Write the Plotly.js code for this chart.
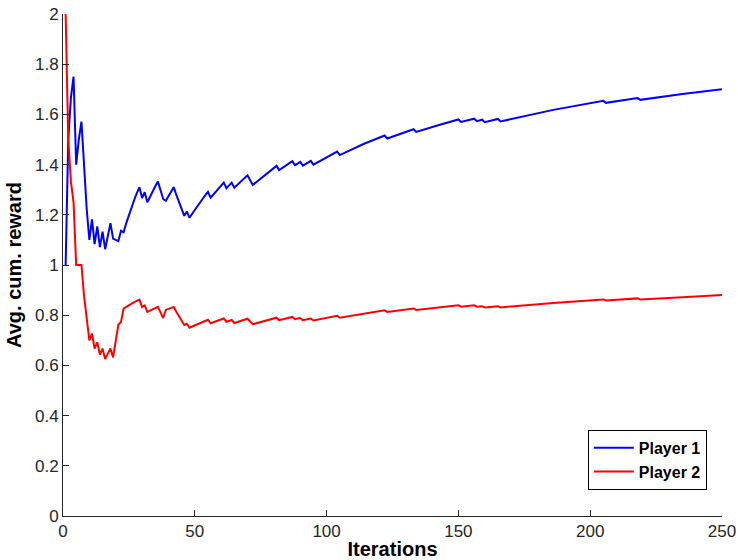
<!DOCTYPE html>
<html>
<head>
<meta charset="utf-8">
<script src="https://cdn.plot.ly/plotly-3.0.1.min.js"></script>
<style>html,body{margin:0;padding:0;background:#fff;}#chart{width:738px;height:560px;}</style>
</head>
<body>
<div id="chart"></div>
<script>
// Player 1 (blue) vertices: iteration and average cumulative reward
const iterP1 = [1,2,3,4,5,6,7,8,9,10,11,12,13,14,15,16,17,18,19,20,21,22,23,24,25,26,27,28,29,30,31,32,33,34,35,36,37,38,39,40,41,42,43,44,45,46,47,48,49,50,51,52,53,54,55,56,
  61,62,63,64,65,70,71,72,81,82,87,88,89,90,91,94,95,104,105,114,122,123,133,134,142,150,151,156,157,159,160,165,166,186,205,206,218,219,235,250];
const rewardP1 = [1.0,1.5,1.667,1.75,1.4,1.5,1.571,1.375,1.222,1.1,1.182,1.083,1.154,1.071,1.133,1.063,1.118,1.167,1.105,1.1,1.095,1.136,1.13,1.167,1.2,1.231,1.259,1.286,1.31,1.267,1.29,1.25,1.273,1.294,1.314,1.333,1.297,1.263,1.256,1.275,1.293,1.31,1.279,1.25,1.222,1.196,1.213,1.188,1.204,1.22,1.235,1.25,1.264,1.278,1.291,1.268,
  1.328,1.306,1.317,1.328,1.308,1.357,1.338,1.319,1.395,1.378,1.414,1.398,1.404,1.411,1.396,1.415,1.4,1.452,1.438,1.482,1.516,1.504,1.541,1.53,1.556,1.58,1.57,1.583,1.573,1.579,1.569,1.582,1.572,1.618,1.654,1.646,1.665,1.658,1.681,1.70];

// Player 2 (red) vertices
const iterP2 = [1,2,3,4,5,6,7,8,9,10,11,12,13,14,15,16,17,18,19,20,21,22,23,24,25,26,27,28,29,30,31,32,33,34,35,36,37,38,39,40,41,42,43,44,45,46,47,48,49,50,51,52,53,54,55,56,
  61,62,63,64,65,70,71,72,81,82,87,88,89,90,91,94,95,104,105,114,122,123,133,134,142,150,151,156,157,159,160,165,166,186,205,206,218,219,235,250];
const rewardP2 = [2.0,1.5,1.333,1.25,1.0,1.0,1.0,0.875,0.778,0.7,0.727,0.667,0.692,0.643,0.667,0.625,0.647,0.667,0.632,0.7,0.762,0.773,0.826,0.833,0.84,0.846,0.852,0.857,0.862,0.833,0.839,0.813,0.818,0.824,0.829,0.833,0.811,0.789,0.821,0.825,0.829,0.833,0.814,0.795,0.778,0.761,0.766,0.75,0.755,0.76,0.765,0.769,0.774,0.778,0.782,0.768,
  0.787,0.774,0.778,0.781,0.769,0.786,0.775,0.764,0.79,0.78,0.793,0.784,0.787,0.789,0.78,0.787,0.779,0.798,0.79,0.807,0.82,0.813,0.827,0.821,0.831,0.84,0.834,0.84,0.834,0.836,0.831,0.836,0.831,0.849,0.863,0.859,0.867,0.863,0.872,0.88];

const seriesNames = ['Player 1','Player 2'];
const xTicks = [0,50,100,150,200,250];
const yTicks = [0,0.2,0.4,0.6,0.8,1,1.2,1.4,1.6,1.8,2];
const yTickText = ['0','0.2','0.4','0.6','0.8','1','1.2','1.4','1.6','1.8','2'];

const FONT = '"Liberation Sans", Arial, Helvetica, sans-serif';
const AX = '#262626';

const traces = [
  {x: iterP1, y: rewardP1, name: seriesNames[0], mode: 'lines', line: {color: '#0000ff', width: 2}},
  {x: iterP2, y: rewardP2, name: seriesNames[1], mode: 'lines', line: {color: '#ff0000', width: 2}}
];

const layout = {
  width: 738, height: 560,
  margin: {l: 63, r: 16, t: 14, b: 44},
  paper_bgcolor: '#ffffff', plot_bgcolor: '#ffffff',
  font: {family: FONT, size: 17, color: AX},
  showlegend: true,
  legend: {
    x: 0.977, xanchor: 'right', y: 0.052, yanchor: 'bottom',
    bordercolor: '#000000', borderwidth: 1, bgcolor: '#ffffff',
    font: {family: FONT, size: 16, color: '#000000', weight: 'bold'},
    itemwidth: 40,
    tracegroupgap: 0
  },
  xaxis: {
    range: [0, 250], tickvals: xTicks, ticktext: xTicks.map(String),
    showgrid: false, zeroline: false, showline: true, linecolor: AX, linewidth: 1,
    ticks: 'inside', ticklen: 6, tickcolor: AX, mirror: false,
    tickfont: {family: FONT, size: 17, color: AX},
    title: {text: 'Iterations', standoff: 2, font: {family: FONT, size: 20, color: '#000000', weight: 'bold'}}
  },
  yaxis: {
    range: [0, 2], tickvals: yTicks, ticktext: yTickText,
    showgrid: false, zeroline: false, showline: true, linecolor: AX, linewidth: 1,
    ticks: 'inside', ticklen: 6, tickcolor: AX, mirror: false,
    tickfont: {family: FONT, size: 17, color: AX},
    title: {text: 'Avg. cum. reward', standoff: 7, font: {family: FONT, size: 20, color: '#000000', weight: 'bold'}}
  }
};

Plotly.newPlot('chart', traces, layout, {displayModeBar: false, staticPlot: true});
</script>
</body>
</html>
